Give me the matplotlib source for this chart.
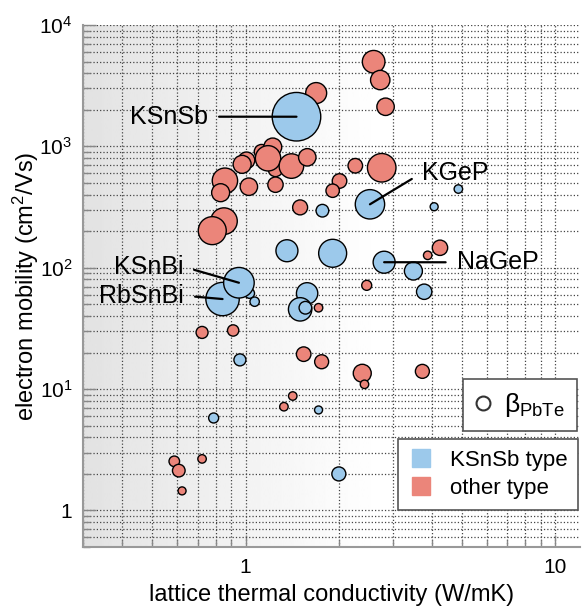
import numpy as np
import matplotlib
matplotlib.use('Agg')
import matplotlib.pyplot as plt
from matplotlib.lines import Line2D
from matplotlib.ticker import NullFormatter

plt.rcParams['font.family'] = ['Liberation Sans', 'DejaVu Sans']
plt.rcParams['mathtext.fontset'] = 'custom'
plt.rcParams['mathtext.rm'] = 'Liberation Sans'
plt.rcParams['mathtext.it'] = 'Liberation Sans:italic'

# KSnSb-type compounds: lattice thermal conductivity (W/mK), mobility (cm2/Vs), beta (relative)
ksnsb_kappa = [1.46, 2.52, 2.80, 0.952, 0.843, 1.36, 1.91, 3.48, 3.77, 1.58,
               1.50, 1.56, 1.07, 1.03, 1.77, 4.86, 4.06, 0.959, 1.72, 0.789, 2.0]
ksnsb_mu = [1754, 333, 111, 75.2, 55.2, 138, 131.5, 93.9, 63.4, 61.5,
            45.4, 46.8, 52.5, 61.5, 295, 445, 318, 17.4, 6.73, 5.78, 2.0]
ksnsb_beta = [5.9, 2.16, 1.21, 2.34, 2.79, 1.21, 1.96, 0.81, 0.59, 1.14,
              1.37, 0.40, 0.22, 0.25, 0.40, 0.18, 0.16, 0.36, 0.16, 0.25, 0.49]
ksnsb_order = [13, 4, 3, 12, 0, 1, 2, 5, 6, 7, 8, 9, 10, 11, 14, 15, 16, 17, 18, 19, 20]

# other-type compounds
other_kappa = [1.69, 2.59, 2.72, 2.83, 2.75, 2.26, 2.01, 1.91, 1.50, 0.858,
               0.831, 1.025, 1.007, 0.975, 1.126, 1.224, 1.249, 1.182, 1.249, 1.406,
               1.582, 0.852, 0.781, 4.24, 3.87, 2.46, 1.72, 0.724, 0.912, 1.54,
               1.76, 2.38, 2.42, 3.72, 1.42, 1.33, 0.589, 0.609, 0.724, 0.624]
other_mu = [2748, 4977, 3517, 2119, 666, 692, 518, 431, 314, 521,
            415, 465, 767, 711, 903, 987, 646, 797, 483, 688,
            812, 242, 202, 146, 126.5, 71.6, 46.8, 29.3, 30.4, 19.4,
            16.8, 13.5, 10.95, 14.0, 8.77, 7.16, 2.54, 2.13, 2.66, 1.45]
other_beta = [1.10, 1.28, 0.94, 0.76, 2.04, 0.53, 0.53, 0.45, 0.56, 1.61,
              0.81, 0.76, 0.69, 0.81, 0.53, 0.81, 0.53, 1.61, 0.59, 1.51,
              0.76, 1.77, 1.96, 0.59, 0.18, 0.25, 0.18, 0.36, 0.32, 0.53,
              0.49, 0.81, 0.18, 0.49, 0.18, 0.18, 0.28, 0.40, 0.18, 0.16]

labels = ['KSnSb', 'KGeP', 'NaGeP', 'KSnBi', 'RbSnBi']
label_xy = [(0.2507, 0.8243), (0.6812, 0.7165), (0.7517, 0.5454), (0.201, 0.537), (0.2024, 0.4814)]
label_ha = ['right', 'left', 'left', 'right', 'right']

xticks = [1, 10]
xticklabels = ['1', '10']
yticks = [1, 10, 100, 1000, 10000]
yticklabels = ['1', '$10^1$', '$10^2$', '$10^3$', '$10^4$']

blue = '#9cc9eb'
red = '#eb857a'
size_scale = 207

fig = plt.figure(figsize=(5.85, 6.09), dpi=100)
pos = [0.1427, 0.1018, 0.8488, 0.8572]

# background gradient
bg = fig.add_axes(pos, zorder=0)
gx = np.linspace(0, 1, 400)
grad = 0.885 + 0.115 * np.clip(gx / 0.6, 0, 1) ** 0.9
bg.imshow(grad[np.newaxis, :], cmap='gray', vmin=0, vmax=1, aspect='auto', extent=(0, 1, 0, 1))
bg.axis('off')

ax = fig.add_axes(pos, zorder=1)
ax.set_facecolor('none')
ax.set_xscale('log')
ax.set_yscale('log')

ok = np.array(other_kappa)
om = np.array(other_mu)
ob = np.array(other_beta)
ax.scatter(ok, om, s=ob * size_scale, c=red, edgecolors='black', linewidths=1.0, zorder=3)

idx = np.array(ksnsb_order)
kk = np.array(ksnsb_kappa)[idx]
km = np.array(ksnsb_mu)[idx]
kb = np.array(ksnsb_beta)[idx]
ax.scatter(kk, km, s=kb * size_scale, c=blue, edgecolors='black', linewidths=1.0, zorder=4)

for i, name in enumerate(labels):
    rel = (1, 0.5) if label_ha[i] == 'right' else (0, 0.5)
    ax.annotate(name, xy=(ksnsb_kappa[i], ksnsb_mu[i]), xytext=label_xy[i],
                textcoords='axes fraction', ha=label_ha[i], va='center', fontsize=18,
                zorder=6,
                arrowprops=dict(arrowstyle='-', color='black', lw=1.6,
                                shrinkA=6, shrinkB=0, relpos=rel))

ax.set_xlim(0.3, 12)
ax.set_ylim(0.5, 1e4)
ax.set_xticks(xticks, xticklabels)
ax.set_yticks(yticks, yticklabels)
ax.xaxis.set_minor_formatter(NullFormatter())
ax.yaxis.set_minor_formatter(NullFormatter())
ax.tick_params(which='both', direction='in', color='#888888', width=1.0,
               top=False, right=False, labelsize=15)
ax.tick_params(which='major', length=9, pad=8)
ax.tick_params(which='minor', length=5)
ax.grid(True, which='both', linestyle=':', color='#444444', linewidth=0.9, zorder=1)
ax.set_axisbelow(True)

for side in ['top', 'right']:
    ax.spines[side].set_visible(False)
for side in ['left', 'bottom']:
    ax.spines[side].set_color('#999999')
    ax.spines[side].set_linewidth(1.5)

ax.set_xlabel('lattice thermal conductivity (W/mK)', fontsize=17, labelpad=5)
ax.set_ylabel('electron mobility (cm$^2$/Vs)', fontsize=17, labelpad=-1)

h1 = [Line2D([], [], ls='none', marker='o', markersize=10, markerfacecolor='none',
             markeredgecolor='#333333', markeredgewidth=1.5)]
leg1 = ax.legend(h1, ['β$_{\\rm PbTe}$'], loc='upper right', bbox_to_anchor=(0.9935, 0.3213),
                 fontsize=19, frameon=True, fancybox=False, framealpha=1, edgecolor='#555555',
                 handlelength=0.6, handletextpad=0.5, borderpad=0.45, borderaxespad=0)
leg1.get_frame().set_linewidth(1.2)
ax.add_artist(leg1)

h2 = [Line2D([], [], ls='none', marker='s', markersize=13, markerfacecolor=blue, markeredgecolor=blue),
      Line2D([], [], ls='none', marker='s', markersize=13, markerfacecolor=red, markeredgecolor=red)]
leg2 = ax.legend(h2, ['KSnSb type', 'other type'], loc='upper right', bbox_to_anchor=(0.9966, 0.2069),
                 fontsize=16, frameon=True, fancybox=False, framealpha=1, edgecolor='#555555',
                 handlelength=1.0, handletextpad=0.8, borderpad=0.5, labelspacing=0.3,
                 borderaxespad=0)
leg2.get_frame().set_linewidth(1.2)
leg2.set_zorder(7)
leg1.set_zorder(7)

fig.savefig('out.png', dpi=100)
